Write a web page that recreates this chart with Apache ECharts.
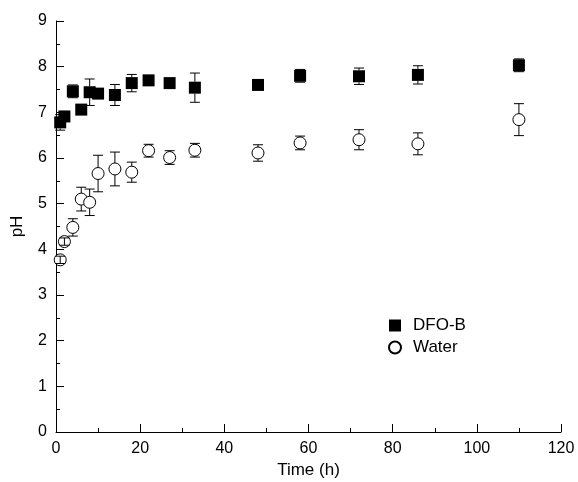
<!DOCTYPE html>
<html>
<head>
<meta charset="utf-8">
<script src="https://cdn.jsdelivr.net/npm/echarts@6/dist/echarts.min.js"></script>
<style>
  html, body { margin: 0; padding: 0; background: #fff; }
  #chart { width: 578px; height: 482px; }
</style>
</head>
<body>
<div id="chart"></div>
<script>
  // sampling times (h)
  var dfoTime = [1, 2, 4, 6, 8, 10, 14, 18, 22, 27, 33, 48, 58, 72, 86, 110];
  var dfoPH   = [6.78, 6.91, 7.46, 7.06, 7.44, 7.41, 7.38, 7.64, 7.70, 7.64, 7.54, 7.60, 7.80, 7.79, 7.82, 8.03];
  var dfoErr  = [0.17, 0.08, 0.14, 0.05, 0.29, 0.05, 0.23, 0.19, 0.05, 0.05, 0.32, 0.05, 0.14, 0.18, 0.20, 0.14];

  var waterTime = [1, 2, 4, 6, 8, 10, 14, 18, 22, 27, 33, 48, 58, 72, 86, 110];
  var waterPH   = [3.77, 4.17, 4.48, 5.10, 5.03, 5.66, 5.76, 5.69, 6.16, 6.01, 6.17, 6.11, 6.33, 6.40, 6.31, 6.84];
  var waterErr  = [0.08, 0.08, 0.19, 0.26, 0.29, 0.40, 0.37, 0.22, 0.14, 0.15, 0.15, 0.18, 0.15, 0.22, 0.24, 0.35];

  var MARK = 12;

  function pairs(xs, ys) {
    return xs.map(function (x, i) { return [x, ys[i]]; });
  }
  function errData(xs, ys, es) {
    return xs.map(function (x, i) { return [x, ys[i] - es[i], ys[i] + es[i], ys[i]]; });
  }

  // error bar drawn around the marker (gap where the marker sits)
  function renderErr(params, api) {
    var x = api.value(0);
    var lo = api.coord([x, api.value(1)]);
    var hi = api.coord([x, api.value(2)]);
    var c = api.coord([x, api.value(3)]);
    var r = MARK / 2;
    var cap = 5;
    var st = { stroke: '#000', lineWidth: 1 };
    var kids = [];
    if (c[1] - hi[1] > r) {
      kids.push({ type: 'line', shape: { x1: c[0], y1: c[1] - r, x2: c[0], y2: hi[1] }, style: st });
      kids.push({ type: 'line', shape: { x1: c[0], y1: c[1] + r, x2: c[0], y2: lo[1] }, style: st });
    } else {
      kids.push({ type: 'line', shape: { x1: c[0], y1: hi[1], x2: c[0], y2: lo[1] }, style: st });
    }
    kids.push({ type: 'line', shape: { x1: c[0] - cap, y1: hi[1], x2: c[0] + cap, y2: hi[1] }, style: st });
    kids.push({ type: 'line', shape: { x1: c[0] - cap, y1: lo[1], x2: c[0] + cap, y2: lo[1] }, style: st });
    return { type: 'group', children: kids };
  }

  var chart = echarts.init(document.getElementById('chart'));
  var font = 'Liberation Sans, Arial, sans-serif';

  chart.setOption({
    animation: false,
    backgroundColor: '#fff',
    grid: { left: 56, right: 17, top: 21, bottom: 50, outerBoundsMode: 'none' },
    legend: {
      left: 383, top: 312, orient: 'vertical',
      itemWidth: 12, itemHeight: 12, itemGap: 5,
      textStyle: { color: '#000', fontSize: 17, fontFamily: font, padding: [0, 0, 0, 7] },
      data: [
        { name: 'DFO-B', icon: 'rect' },
        { name: 'Water', icon: 'circle' }
      ]
    },
    xAxis: {
      type: 'value', min: 0, max: 120, interval: 20,
      name: 'Time (h)', nameLocation: 'middle', nameGap: 26,
      nameTextStyle: { color: '#000', fontSize: 17, fontFamily: font },
      axisLine: { lineStyle: { color: '#000', width: 1 } },
      axisTick: { inside: true, length: 8, lineStyle: { color: '#000' } },
      minorTick: { show: true, splitNumber: 2, length: 4, lineStyle: { color: '#000' } },
      axisLabel: { color: '#000', fontSize: 16, fontFamily: font, margin: 9 },
      splitLine: { show: false }
    },
    yAxis: {
      type: 'value', min: 0, max: 9, interval: 1,
      name: 'pH', nameLocation: 'middle', nameGap: 30,
      nameTextStyle: { color: '#000', fontSize: 17, fontFamily: font },
      axisLine: { show: true, lineStyle: { color: '#000', width: 1 } },
      axisTick: { inside: true, length: 8, lineStyle: { color: '#000' } },
      minorTick: { show: true, splitNumber: 2, length: 4, lineStyle: { color: '#000' } },
      axisLabel: { color: '#000', fontSize: 16, fontFamily: font, margin: 9 },
      splitLine: { show: false }
    },
    series: [
      {
        type: 'custom', name: 'dfoErr', renderItem: renderErr,
        data: errData(dfoTime, dfoPH, dfoErr), z: 3, silent: true
      },
      {
        type: 'custom', name: 'waterErr', renderItem: renderErr,
        data: errData(waterTime, waterPH, waterErr), z: 3, silent: true
      },
      {
        name: 'DFO-B', type: 'scatter', symbol: 'rect', symbolSize: MARK,
        itemStyle: { color: '#000', borderColor: '#000', borderWidth: 0, opacity: 1 },
        data: pairs(dfoTime, dfoPH), z: 2
      },
      {
        name: 'Water', type: 'scatter', symbol: 'circle', symbolSize: MARK,
        itemStyle: { color: '#fff', borderColor: '#000', borderWidth: 1, opacity: 1 },
        data: pairs(waterTime, waterPH), z: 2
      }
    ]
  });
</script>
</body>
</html>
